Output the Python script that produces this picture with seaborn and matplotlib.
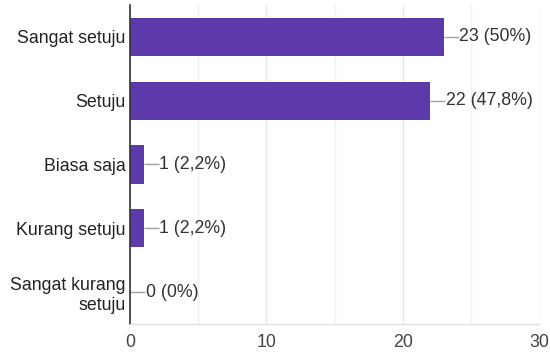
import matplotlib
matplotlib.use("Agg")
import matplotlib.pyplot as plt
import seaborn as sns
import pandas as pd

categories = ["Sangat setuju", "Setuju", "Biasa saja", "Kurang setuju", "Sangat kurang\nsetuju"]
counts = [23, 22, 1, 1, 0]
percents = ["50%", "47,8%", "2,2%", "2,2%", "0%"]
x_ticks = [0, 10, 20, 30]

sns.set_theme(style="white")
plt.rcParams["font.family"] = ["Liberation Sans", "DejaVu Sans"]

df = pd.DataFrame({"kategori": categories, "jumlah": counts})

fig = plt.figure(figsize=(5.5, 3.56), dpi=100)
ax = fig.add_axes([0.2364, 0.09, 0.7436, 0.896])

sns.barplot(data=df, x="jumlah", y="kategori", orient="h", color="#5c3aaa",
            saturation=1, width=0.6, ax=ax, edgecolor="none")

ax.set_xlim(0, 30)
ax.set_ylim(4.5, -0.5)
ax.set_xticks(x_ticks)
ax.set_xticks([5, 15, 25], minor=True)
ax.grid(axis="x", which="major", color="#e6e6e6", linewidth=1)
ax.grid(axis="x", which="minor", color="#f2f2f2", linewidth=1)
ax.set_axisbelow(True)

for s in ["top", "right"]:
    ax.spines[s].set_visible(False)
ax.spines["left"].set_color("#333333")
ax.spines["left"].set_linewidth(1.2)
ax.spines["bottom"].set_color("#e0e0e0")
ax.spines["bottom"].set_linewidth(1)

ax.set_xlabel("")
ax.set_ylabel("")
ax.set_yticks(range(len(categories)))
ax.set_yticklabels(categories, ha="right", multialignment="right", linespacing=1.25)
ax.tick_params(axis="x", length=0, labelsize=12.8, labelcolor="#444444", pad=7)
ax.tick_params(axis="y", length=0, labelsize=12.8, labelcolor="#222222", pad=3)

for i, (v, p) in enumerate(zip(counts, percents)):
    ax.plot([v, v + 1.1], [i, i], color="#a0a0a0", linewidth=1, solid_capstyle="butt")
    ax.text(v + 1.15, i, f"{v} ({p})", va="center", ha="left",
            fontsize=12.8, color="#333333")

fig.savefig("out.png", dpi=100, facecolor="white")
